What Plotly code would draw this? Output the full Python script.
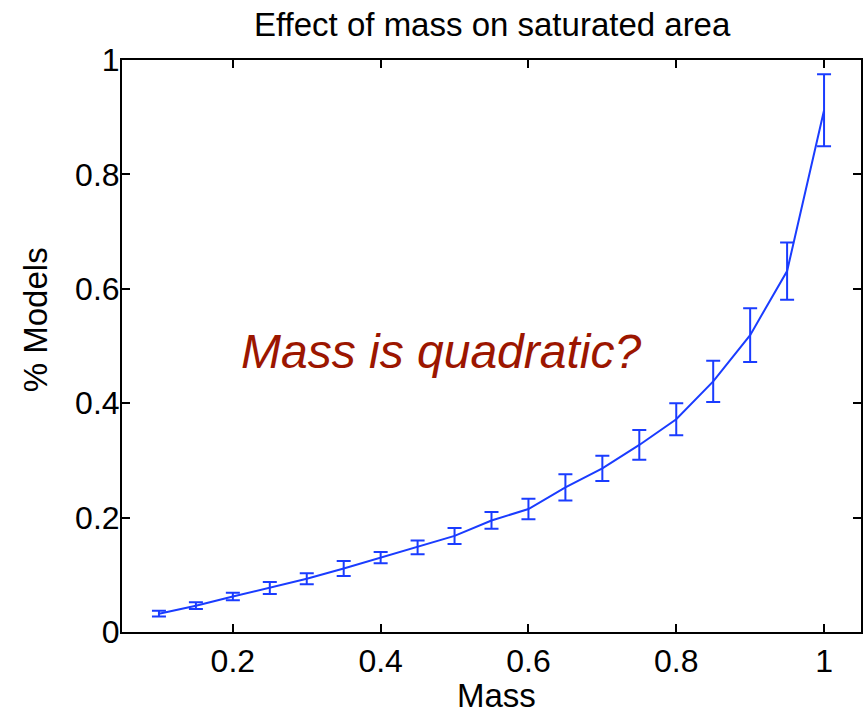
import plotly.graph_objects as go

# Mass values and the share of models with a saturated area
mass = [0.10, 0.15, 0.20, 0.25, 0.30, 0.35, 0.40, 0.45, 0.50, 0.55,
        0.60, 0.65, 0.70, 0.75, 0.80, 0.85, 0.90, 0.95, 1.00]
pct_models = [0.032, 0.046, 0.062, 0.077, 0.093, 0.111, 0.130, 0.148, 0.168, 0.195,
              0.215, 0.253, 0.286, 0.327, 0.372, 0.438, 0.519, 0.631, 0.912]
err = [0.005, 0.006, 0.0065, 0.0105, 0.0095, 0.013, 0.0097, 0.012, 0.014, 0.0146,
       0.018, 0.023, 0.022, 0.026, 0.028, 0.036, 0.047, 0.050, 0.063]

x_ticks = [0.2, 0.4, 0.6, 0.8, 1.0]
x_tick_text = ["0.2", "0.4", "0.6", "0.8", "1"]
y_ticks = [0, 0.2, 0.4, 0.6, 0.8, 1.0]
y_tick_text = ["0", "0.2", "0.4", "0.6", "0.8", "1"]

BLUE = "#1a3cff"
FONT = "Liberation Sans, Arial, Helvetica, sans-serif"

fig = go.Figure()
fig.add_trace(go.Scatter(
    x=mass, y=pct_models, mode="lines",
    line=dict(color=BLUE, width=2),
    error_y=dict(type="data", array=err, visible=True,
                 color=BLUE, thickness=2, width=7),
    showlegend=False,
))

axis_common = dict(
    showline=True, linecolor="black", linewidth=2, mirror="ticks",
    ticks="inside", ticklen=8, tickwidth=2, tickcolor="black",
    showgrid=False, zeroline=False,
    tickfont=dict(family=FONT, size=32, color="black"),
)

fig.update_xaxes(range=[0.05, 1.05], tickvals=x_ticks, ticktext=x_tick_text, **axis_common)
fig.update_yaxes(range=[0, 1], tickvals=y_ticks, ticktext=y_tick_text,
                 ticklabelstandoff=-6, **axis_common)

fig.add_annotation(
    text="Effect of mass on saturated area", xref="paper", yref="paper",
    x=(494 - 122) / 741, y=1 + (60 - 25) / 572, xanchor="center", yanchor="middle",
    showarrow=False, font=dict(family=FONT, size=33, color="black"),
)
fig.add_annotation(
    text="Mass", xref="paper", yref="paper",
    x=(498 - 122) / 741, y=-(716 - 632) / 572, xanchor="center", yanchor="bottom",
    showarrow=False, font=dict(family=FONT, size=33, color="black"),
)
fig.add_annotation(
    text="% Models", xref="paper", yref="paper", textangle=-90,
    x=-(122 - 35) / 741, y=(632 - 320) / 572, xanchor="center", yanchor="middle",
    showarrow=False, font=dict(family=FONT, size=33, color="black"),
)
fig.add_annotation(
    text="<i>Mass is quadratic?</i>", x=0.4815, y=0.491,
    xanchor="center", yanchor="middle", showarrow=False,
    font=dict(family=FONT, size=48, color="#9c1600"),
)

fig.update_layout(
    width=865, height=716,
    margin=dict(l=122, r=2, t=60, b=84),
    paper_bgcolor="white", plot_bgcolor="white",
)

fig.write_html("out.html")
